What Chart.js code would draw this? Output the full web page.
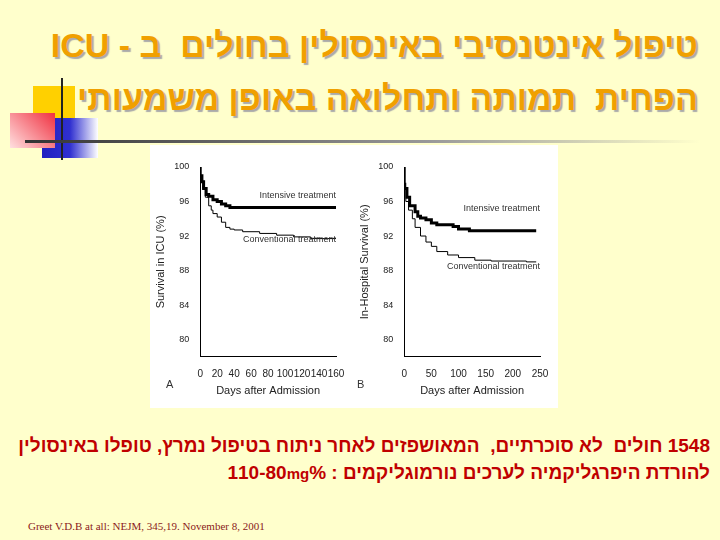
<!DOCTYPE html>
<html><head><meta charset="utf-8">
<script src="https://cdn.jsdelivr.net/npm/chart.js@4"></script>
<style>
body{margin:0;width:720px;height:540px;background:#FFFFCC;position:relative;overflow:hidden;font-family:"Liberation Sans",Arial,sans-serif}
.t{position:absolute;right:22px;direction:rtl;font-weight:bold;color:#F0A000;font-size:34px;text-shadow:2px 2px 1px #aaa;white-space:nowrap}
.b{position:absolute;right:10px;direction:rtl;font-weight:bold;color:#C00000;font-size:19px;white-space:nowrap}
.d{position:absolute}
</style></head><body>
<div class="d" style="left:33px;top:86px;width:42px;height:34px;background:#FFD000"></div>
<div class="d" style="left:42px;top:118px;width:56px;height:40px;background:linear-gradient(90deg,#2020C0,#3030D0 50%,#fff)"></div>
<div class="d" style="left:10px;top:113px;width:45px;height:35px;background:linear-gradient(45deg,#ffe0e0,#F03040)"></div>
<div class="d" style="left:61px;top:78px;width:2px;height:82px;background:#222"></div>
<div class="d" style="left:25px;top:140px;width:675px;height:3px;background:linear-gradient(90deg,#333,#999 60%,#FFFFCC)"></div>
<div class="t" style="top:26px">טיפול אינטנסיבי באינסולין בחולים&nbsp; ב - ICU</div>
<div class="t" style="top:79px">הפחית&nbsp; תמותה ותחלואה באופן משמעותי</div>
<div class="d" style="left:150px;top:145px;width:408px;height:263px;background:#fff"></div>
<div class="d" style="left:150px;top:145px;width:204px;height:263px"><canvas id="ca"></canvas></div>
<div class="d" style="left:354px;top:145px;width:204px;height:263px"><canvas id="cb"></canvas></div>
<div class="d" style="left:166px;top:378px;font-size:11px;color:#333">A</div>
<div class="d" style="left:357px;top:378px;font-size:11px;color:#333">B</div>
<div class="b" style="top:435px">1548 חולים&nbsp; לא סוכרתיים,&nbsp; המאושפזים לאחר ניתוח בטיפול נמרץ, טופלו באינסולין</div>
<div class="b" style="top:462px">להורדת היפרגליקמיה לערכים נורמוגליקמים : <span style="direction:ltr;unicode-bidi:isolate">110-80<span style="font-size:15px">mg</span>%</span></div>
<div class="d" style="left:28px;top:520px;font-family:'Liberation Serif',serif;font-size:11px;color:#8B1A1A">Greet V.D.B at all: NEJM, 345,19. November 8, 2001</div>
<script>
const aIntX=[0,2,4,7,10,15,20,25,30,35,40,160];
const aIntY=[100,99,98.3,97.5,96.8,96.6,96.2,96,95.7,95.5,95.3,95.3];
const aConX=[0,3,6,10,13,15,20,25,30,35,40,50,70,90,110,130,150,160];
const aConY=[100,98.5,97.5,96.5,95.5,95,94.6,94.2,93.6,93,92.8,92.7,92.5,92.3,92.1,91.9,91.7,91.7];
const bIntX=[0,1,5,10,20,25,30,40,50,60,90,100,120,135,243];
const bIntY=[100,98,97.5,96.5,95.5,94.8,94.3,94.1,93.9,93.5,93.3,93.1,92.8,92.6,92.6];
const bConX=[0,3,8,15,20,30,40,50,60,80,100,130,160,225,243];
const bConY=[100,97.5,96,95,94,93,92,91.3,90.8,90.2,89.8,89.5,89.2,89.1,89.0];
const yTicks=[80,84,88,92,96,100];
const pts=(xs,ys)=>xs.map((x,i)=>({x,y:ys[i]}));
const labelPlugin={id:'lbl',afterDatasetsDraw(c,a,o){const ctx=c.ctx,xs=c.scales.x,ys=c.scales.y;ctx.save();ctx.font='9px "Liberation Sans",Arial';ctx.fillStyle='#333';ctx.textAlign='right';o.items.forEach(it=>ctx.fillText(it.t,xs.right,ys.getPixelForValue(it.y)));ctx.restore();}};
function mk(id,ix,iy,cx,cy,xmax,xstep,ytitle,labels){
 new Chart(document.getElementById(id),{type:'line',plugins:[labelPlugin],
 data:{datasets:[{data:pts(ix,iy),stepped:'after',borderColor:'#000',borderWidth:3,pointRadius:0},
 {data:pts(cx,cy),stepped:'after',borderColor:'#000',borderWidth:1,pointRadius:0}]},
 options:{responsive:true,maintainAspectRatio:false,animation:false,
 layout:{padding:{top:22,right:18,bottom:6,left:0}},
 plugins:{legend:{display:false},tooltip:{enabled:false},lbl:{items:labels}},
 scales:{x:{type:'linear',min:0,max:xmax,grid:{display:false,drawTicks:true},border:{color:'#000'},
  ticks:{stepSize:xstep,color:'#222',font:{size:10},maxRotation:0,autoSkip:false},
  title:{display:true,text:'Days after Admission',color:'#222',font:{size:11},padding:{top:2}}},
 y:{min:78,max:100,grid:{display:false},border:{color:'#000'},
  afterBuildTicks(s){s.ticks=yTicks.map(v=>({value:v}));},
  ticks:{color:'#222',font:{size:9}},
  title:{display:true,text:ytitle,color:'#222',font:{size:11}}}}}});
}
mk('ca',aIntX,aIntY,aConX,aConY,160,20,'Survival in ICU (%)',[{t:'Intensive treatment',y:96.4},{t:'Conventional treatment',y:91.3}]);
mk('cb',bIntX,bIntY,bConX,bConY,250,50,'In-Hospital Survival (%)',[{t:'Intensive treatment',y:94.9},{t:'Conventional treatment',y:88.2}]);
</script></body></html>
